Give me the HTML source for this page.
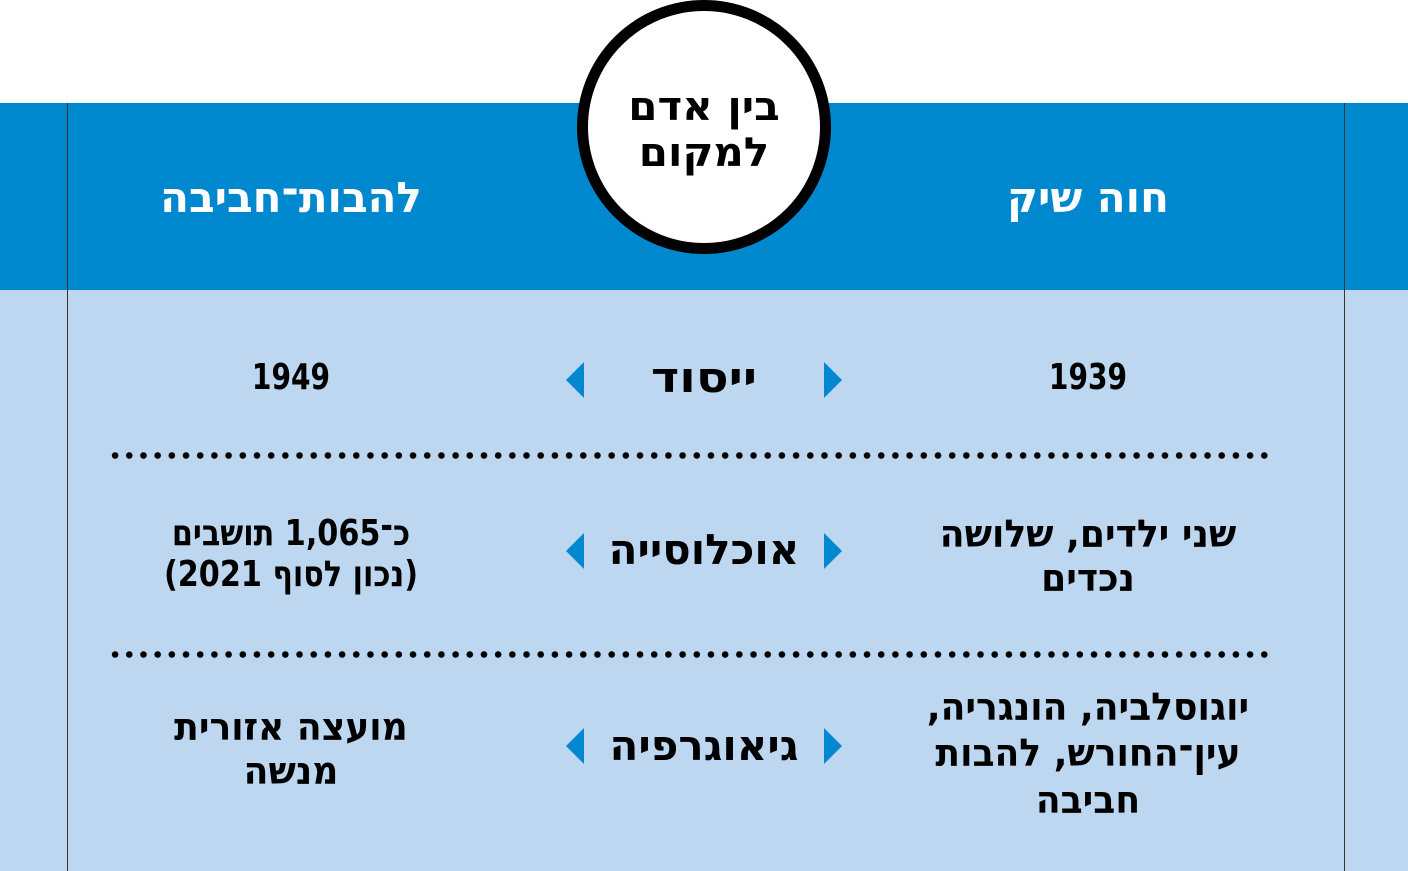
<!DOCTYPE html>
<html><head><meta charset="utf-8"><style>
body{margin:0;width:1408px;height:871px;overflow:hidden;background:#bcd7ef;position:relative;font-family:"DejaVu Sans","Liberation Sans",sans-serif;font-weight:bold;}
.top{position:absolute;left:0;top:0;width:1408px;height:103px;background:#fff}
.band{position:absolute;left:0;top:103px;width:1408px;height:187px;background:#0088cf}
.vl{position:absolute;top:103px;bottom:0;width:1px;background:#333}
.circ{position:absolute;left:577px;top:0;width:232px;height:232px;border:11px solid #000;border-radius:50%;background:#fff}
.t{position:absolute;text-align:center;direction:rtl;color:#000;white-space:nowrap;transform:scaleX(0.85);line-height:1.15}
.dots{position:absolute;left:108px;width:1160px;height:7px;background:radial-gradient(circle,#000 3px,transparent 3.5px) 0 0/14.2px 7px repeat-x}
.tl{position:absolute;width:0;height:0;border-top:18px solid transparent;border-bottom:18px solid transparent}
</style></head><body>
<div class="top"></div>
<div class="band"></div>
<div class="vl" style="left:67px"></div>
<div class="vl" style="left:1344px"></div>
<div class="circ"></div>
<div class="t" style="left:554px;width:300px;top:84px;font-size:40px;transform:scaleX(1.05)">בין אדם<br>למקום</div>
<div class="t" style="left:141px;width:300px;top:174px;font-size:42px;color:#fff;transform:scaleX(1.0)">להבות־חביבה</div>
<div class="t" style="left:938px;width:300px;top:174px;font-size:42px;color:#fff;transform:scaleX(1.0)">חוה שיק</div>

<div class="t" style="left:191px;width:200px;top:357px;font-size:36px;transform:scaleX(0.78)">1949</div>
<div class="t" style="left:988px;width:200px;top:357px;font-size:36px;transform:scaleX(0.78)">1939</div>
<div class="t" style="left:604px;width:200px;top:354px;font-size:42px;transform:scaleX(1.15)">ייסוד</div>

<div class="dots" style="top:452px"></div>
<div class="dots" style="top:651px"></div>

<div class="t" style="left:101px;width:380px;top:513px;font-size:36px;transform:scaleX(0.84)">כ־1,065 תושבים<br>(נכון לסוף 2021)</div>
<div class="t" style="left:554px;width:300px;top:526px;font-size:42px;transform:scaleX(1.0)">אוכלוסייה</div>
<div class="t" style="left:898px;width:380px;top:513px;font-size:38px;transform:scaleX(0.95)">שני ילדים, שלושה<br>נכדים</div>

<div class="t" style="left:101px;width:380px;top:706px;font-size:38px;transform:scaleX(0.95)">מועצה אזורית<br>מנשה</div>
<div class="t" style="left:554px;width:300px;top:722px;font-size:42px;transform:scaleX(1.0)">גיאוגרפיה</div>
<div class="t" style="left:888px;width:400px;top:684px;font-size:38px;line-height:1.22;transform:scaleX(0.95)">יוגוסלביה, הונגריה,<br>עין־החורש, להבות<br>חביבה</div>

<div class="tl" style="left:566px;top:362px;border-right:18px solid #0088cf"></div>
<div class="tl" style="left:824px;top:362px;border-left:18px solid #0088cf"></div>
<div class="tl" style="left:566px;top:533px;border-right:18px solid #0088cf"></div>
<div class="tl" style="left:824px;top:533px;border-left:18px solid #0088cf"></div>
<div class="tl" style="left:566px;top:728px;border-right:18px solid #0088cf"></div>
<div class="tl" style="left:824px;top:728px;border-left:18px solid #0088cf"></div>
</body></html>
